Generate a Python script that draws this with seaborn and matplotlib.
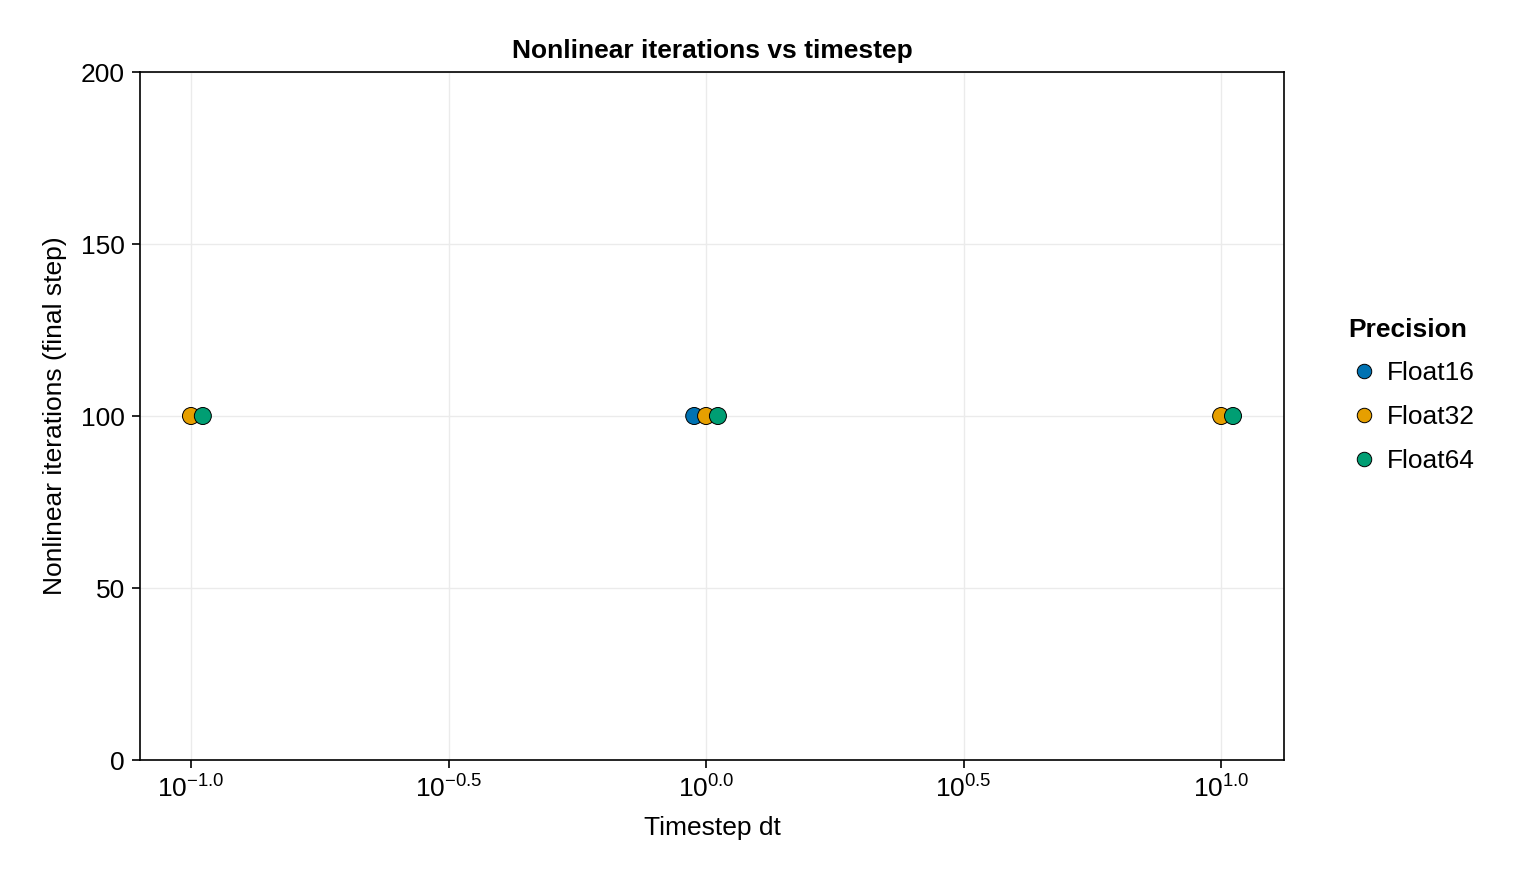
import numpy as np
import pandas as pd
import seaborn as sns
import matplotlib
matplotlib.use("Agg")
import matplotlib.pyplot as plt
from matplotlib.ticker import FixedLocator, FuncFormatter

precision = ["Float16", "Float32", "Float32", "Float32", "Float64", "Float64", "Float64"]
dt = [1.0, 0.1, 1.0, 10.0, 0.1, 1.0, 10.0]
iterations = [100, 100, 100, 100, 100, 100, 100]
order = ["Float16", "Float32", "Float64"]
colors = ["#0072B2", "#E69F00", "#009E73"]

df = pd.DataFrame({"Precision": precision, "dt": dt, "iters": iterations})
dodge = {"Float16": -0.023, "Float32": 0.0, "Float64": 0.023}
df["x"] = df["dt"] * 10 ** df["Precision"].map(dodge)

sns.set_theme(style="white")
plt.rcParams['font.family'] = ['Liberation Sans', 'DejaVu Sans']
plt.rcParams['text.color'] = 'black'
plt.rcParams['axes.labelcolor'] = 'black'
plt.rcParams['xtick.color'] = 'black'
plt.rcParams['ytick.color'] = 'black'
plt.rcParams['mathtext.fontset'] = 'custom'
plt.rcParams['mathtext.rm'] = 'Liberation Sans'
plt.rcParams['mathtext.it'] = 'Liberation Sans'
fig = plt.figure(figsize=(15.2, 8.8), dpi=100)
ax = fig.add_axes([140/1520, 120/880, 1144/1520, 688/880])
sns.scatterplot(data=df, x="x", y="iters", hue="Precision", hue_order=order,
                palette=colors, s=150, edgecolor="black", linewidth=0.7, ax=ax, zorder=3)
ax.set_xscale("log")
ax.set_xlim(10**-1.099, 10**1.122)
ax.set_ylim(0, 200)
ax.xaxis.set_major_locator(FixedLocator([10**e for e in [-1, -0.5, 0, 0.5, 1]]))
ax.xaxis.set_minor_locator(FixedLocator([]))
ax.xaxis.set_major_formatter(FuncFormatter(lambda v, p: r"$10^{%.1f}$" % np.log10(v)))
ax.set_yticks([0, 50, 100, 150, 200])
ax.grid(True, color="#ebebeb", linewidth=1)
for s in ax.spines.values():
    s.set_color("black"); s.set_linewidth(1.2)
ax.tick_params(axis="both", labelsize=19, length=6, width=1.2, direction="out",
               bottom=True, left=True, pad=5)
ax.set_xlabel("Timestep dt", fontsize=19, labelpad=10)
ax.set_ylabel("Nonlinear iterations (final step)", fontsize=19, labelpad=10)
ax.set_title("Nonlinear iterations vs timestep", fontsize=19, fontweight="bold", pad=10)
leg = ax.legend(title="Precision", loc="center left", bbox_to_anchor=(1.035, 0.53), frameon=False,
                fontsize=19, title_fontproperties={"weight": "bold", "size": 19},
                markerscale=0.85, handletextpad=0.3, handlelength=1.2, labelspacing=0.75)
leg._legend_box.align = "left"
fig.savefig("out.png", dpi=100)
